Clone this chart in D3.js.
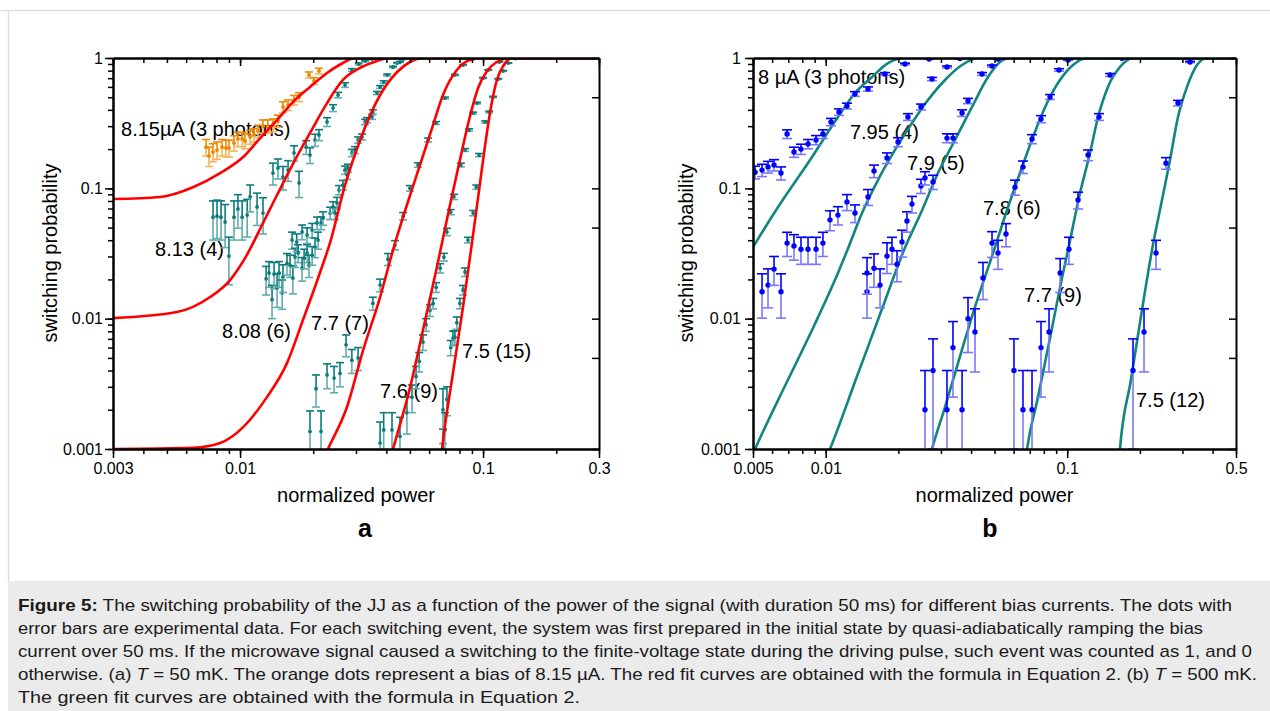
<!DOCTYPE html>
<html><head><meta charset="utf-8">
<script src="https://cdn.jsdelivr.net/npm/d3@7"></script>
<style>
body{margin:0;background:#fff}
svg text{font-family:"Liberation Sans",Arial,Helvetica,sans-serif}
</style>
</head><body>
<svg id="c" width="1270" height="711"></svg>
<script>
// ---------------- tick labels ----------------
const yTickVals = [0.001, 0.01, 0.1, 1];
const yTickLabels = ["0.001", "0.01", "0.1", "1"];
const aXTickVals = [0.003, 0.01, 0.1, 0.3];
const aXTickLabels = ["0.003", "0.01", "0.1", "0.3"];
const bXTickVals = [0.005, 0.01, 0.1, 0.5];
const bXTickLabels = ["0.005", "0.01", "0.1", "0.5"];

// ---------------- panel a data: [power, probability, error] ----------------
const a815 = [[0.00725,0.207,0.03],[0.00745,0.177,0.03],[0.00774,0.190,0.03],[0.00804,0.197,0.03],[0.00843,0.207,0.03],[0.00875,0.204,0.03],[0.0090,0.204,0.03],[0.00944,0.223,0.03],[0.0098,0.239,0.03],[0.0102,0.239,0.03],[0.01048,0.231,0.03],[0.0110,0.248,0.03],[0.01141,0.257,0.03],[0.01185,0.275,0.03],[0.01243,0.300,0.035],[0.0130,0.300,0.035],[0.01366,0.306,0.035],[0.01432,0.329,0.035],[0.01502,0.421,0.04],[0.01576,0.436,0.04],[0.01668,0.476,0.04],[0.01749,0.502,0.04],[0.01922,0.741,0.04],[0.02016,0.666,0.04],[0.02113,0.795,0.04]];
const a813 = [[0.00774,0.0601,0.02],[0.00804,0.0612,0.02],[0.00835,0.0601,0.02],[0.00868,0.0551,0.02],[0.0090,0.0302,0.012],[0.00944,0.0601,0.02],[0.0098,0.0694,0.02],[0.0102,0.0601,0.02],[0.0107,0.0623,0.02],[0.011,0.086,0.02],[0.01175,0.0719,0.02],[0.01243,0.0646,0.02],[0.01366,0.131,0.025],[0.01432,0.143,0.025],[0.01502,0.122,0.025],[0.01576,0.138,0.025],[0.01668,0.187,0.025],[0.01749,0.110,0.025],[0.0187,0.207,0.025],[0.0194,0.180,0.025],[0.02035,0.235,0.025],[0.02113,0.257,0.025],[0.0228,0.323,0.025],[0.02414,0.413,0.025],[0.0253,0.520,0.025],[0.02704,0.620,0.025],[0.02885,0.809,0.02],[0.0308,0.899,0.015],[0.0327,0.948,0.01],[0.0349,0.982,0.008]];
const a808 = [[0.0128,0.0202,0.005],[0.01316,0.0224,0.005],[0.01354,0.0140,0.004],[0.0138,0.0220,0.005],[0.0142,0.0172,0.005],[0.01447,0.0224,0.005],[0.0149,0.0158,0.004],[0.01502,0.0209,0.005],[0.0156,0.0266,0.005],[0.01606,0.0257,0.005],[0.01637,0.0401,0.006],[0.0165,0.0205,0.005],[0.01684,0.0297,0.005],[0.0171,0.0387,0.006],[0.01733,0.0319,0.005],[0.018,0.0244,0.005],[0.018,0.0463,0.006],[0.01835,0.0291,0.005],[0.01887,0.0319,0.005],[0.01887,0.0438,0.006],[0.01922,0.0257,0.005],[0.0198,0.0307,0.005],[0.0198,0.0478,0.006],[0.02035,0.0354,0.006],[0.02074,0.0542,0.006],[0.02094,0.0401,0.006],[0.02154,0.0542,0.006],[0.02196,0.0591,0.007],[0.02347,0.0646,0.007],[0.02414,0.0719,0.007],[0.0246,0.0646,0.007],[0.02506,0.0772,0.008],[0.02554,0.097,0.008],[0.0265,0.106,0.009],[0.02704,0.138,0.01],[0.02754,0.127,0.01],[0.0278,0.143,0.01],[0.02885,0.187,0.012],[0.0297,0.197,0.012],[0.0306,0.235,0.013],[0.03177,0.248,0.013],[0.0327,0.323,0.015],[0.0333,0.334,0.015],[0.0349,0.353,0.015],[0.0352,0.385,0.015],[0.0366,0.539,0.015],[0.0377,0.599,0.015],[0.039,0.654,0.015],[0.0403,0.741,0.012],[0.0426,0.853,0.01],[0.0443,0.915,0.008],[0.0455,0.932,0.008],[0.0469,0.982,0.005]];
const a77 = [[0.0194,0.00136,0.0006],[0.02055,0.0029,0.0008],[0.02154,0.00136,0.0006],[0.0228,0.0037,0.0008],[0.02437,0.0035,0.0008],[0.02578,0.0038,0.0008],[0.0273,0.0063,0.0012],[0.02885,0.0048,0.001],[0.0306,0.0050,0.001],[0.0352,0.0131,0.0015],[0.0377,0.0181,0.002],[0.0406,0.0286,0.003],[0.0434,0.0367,0.003],[0.0469,0.0612,0.004],[0.05,0.100,0.005],[0.054,0.151,0.006],[0.0594,0.235,0.008],[0.0641,0.317,0.008],[0.0697,0.493,0.008],[0.0766,0.741,0.008],[0.0827,0.884,0.006]];
const a76 = [[0.0377,0.00111,0.0005],[0.039,0.0014,0.0005],[0.0422,0.0014,0.0005],[0.0455,0.00125,0.0005],[0.0486,0.0019,0.0006],[0.051,0.0025,0.0006],[0.053,0.0036,0.0007],[0.0546,0.0047,0.0008],[0.0566,0.0066,0.0009],[0.0583,0.0090,0.001],[0.0605,0.0116,0.0012],[0.0623,0.0131,0.0012],[0.0641,0.0174,0.0015],[0.0666,0.0244,0.002],[0.069,0.0297,0.002],[0.071,0.0463,0.003],[0.0736,0.0657,0.003],[0.0759,0.086,0.004],[0.081,0.151,0.005],[0.0843,0.197,0.005],[0.0876,0.280,0.006],[0.091,0.378,0.006],[0.0945,0.451,0.006],[0.1,0.702,0.006],[0.105,0.809,0.005],[0.1166,0.932,0.004],[0.126,0.982,0.003]];
const a75 = [[0.0684,0.00102,0.0004],[0.0684,0.0020,0.0009],[0.0697,0.0014,0.0005],[0.071,0.0024,0.0006],[0.0736,0.0060,0.0008],[0.0752,0.0071,0.0009],[0.0766,0.0072,0.0009],[0.078,0.0093,0.001],[0.0803,0.0131,0.0012],[0.0827,0.0166,0.0014],[0.0843,0.0228,0.0017],[0.0867,0.0401,0.002],[0.091,0.0646,0.003],[0.0938,0.102,0.004],[0.0963,0.180,0.005],[0.102,0.323,0.006],[0.106,0.385,0.006],[0.110,0.502,0.006],[0.1155,0.690,0.005],[0.121,0.795,0.005],[0.127,0.915,0.004],[0.136,0.99,0.003]];

// panel a fit curves: [power, probability]
const fitA815 = [[0.003,0.0828],[0.00468,0.0858],[0.0064,0.102],[0.00828,0.131],[0.0103,0.174],[0.0121,0.243],[0.0142,0.334],[0.0165,0.459],[0.0194,0.599],[0.0228,0.767],[0.0265,0.915],[0.0292,0.99],[0.034,1],[0.3,1]];
const fitA813 = [[0.003,0.0101],[0.0055,0.01124],[0.00753,0.01465],[0.0091,0.01978],[0.01048,0.0291],[0.01243,0.0542],[0.0142,0.0889],[0.0171,0.174],[0.0194,0.266],[0.0228,0.451],[0.0265,0.678],[0.0311,0.838],[0.0366,0.95],[0.0414,1],[0.3,1]];
const fitA808 = [[0.003,0.001],[0.0064,0.00102],[0.00828,0.00111],[0.0103,0.00147],[0.0129,0.0025],[0.0156,0.00456],[0.01815,0.00976],[0.0213,0.0224],[0.0235,0.0387],[0.02704,0.106],[0.0312,0.235],[0.0377,0.520],[0.0443,0.781],[0.05,0.932],[0.0566,1],[0.3,1]];
const fitA77 = [[0.0211,0.0007],[0.023,0.001],[0.02754,0.0021],[0.0321,0.00574],[0.0377,0.01465],[0.0426,0.0336],[0.0486,0.0745],[0.055,0.151],[0.0617,0.290],[0.0684,0.520],[0.078,0.809],[0.0884,0.965],[0.1,1],[0.3,1]];
const fitA76 = [[0.0395,0.0006],[0.0426,0.001],[0.05,0.00293],[0.0566,0.00818],[0.0646,0.0249],[0.0731,0.0745],[0.0803,0.165],[0.0884,0.359],[0.0954,0.589],[0.1038,0.795],[0.114,0.932],[0.129,1],[0.3,1]];
const fitA75 = [[0.0653,0.0005],[0.0678,0.001],[0.0752,0.00383],[0.0827,0.0123],[0.090,0.038],[0.0963,0.097],[0.102,0.215],[0.108,0.428],[0.114,0.678],[0.121,0.868],[0.132,1],[0.3,1]];

// ---------------- panel b data ----------------
const b8 = [[0.0051,0.133,0.015],[0.00545,0.138,0.015],[0.00577,0.146,0.015],[0.00611,0.151,0.015],[0.00653,0.131,0.015],[0.00692,0.261,0.02],[0.00739,0.190,0.017],[0.0079,0.200,0.018],[0.00845,0.219,0.018],[0.00912,0.235,0.019],[0.00974,0.261,0.02],[0.01052,0.323,0.021],[0.01135,0.385,0.022],[0.01225,0.428,0.022],[0.01322,0.530,0.022],[0.01497,0.578,0.022],[0.0176,0.754,0.019],[0.0213,0.899,0.013],[0.0268,0.982,0.006]];
const b795 = [[0.00545,0.0161,0.006],[0.00577,0.0181,0.006],[0.00611,0.024,0.006],[0.00653,0.0161,0.006],[0.00692,0.038,0.008],[0.00739,0.0361,0.008],[0.0079,0.0341,0.008],[0.00845,0.0341,0.008],[0.00912,0.0341,0.008],[0.00974,0.038,0.008],[0.01042,0.0573,0.01],[0.01124,0.0623,0.01],[0.01225,0.0785,0.011],[0.01322,0.0646,0.01],[0.01497,0.0859,0.012],[0.01585,0.1358,0.015],[0.01794,0.171,0.016],[0.01993,0.2266,0.018],[0.0219,0.353,0.021],[0.0248,0.421,0.022],[0.02755,0.690,0.02],[0.03178,0.853,0.015],[0.03597,0.99,0.005]];
const b79 = [[0.01483,0.0161,0.006],[0.01483,0.0224,0.007],[0.01585,0.0244,0.007],[0.01679,0.0181,0.006],[0.01794,0.0302,0.008],[0.01882,0.0341,0.008],[0.01974,0.0262,0.007],[0.0207,0.0387,0.009],[0.0217,0.0561,0.01],[0.02277,0.0757,0.011],[0.0248,0.1043,0.013],[0.02577,0.1201,0.014],[0.02782,0.112,0.014],[0.03178,0.243,0.019],[0.03365,0.243,0.019],[0.0367,0.378,0.022],[0.03884,0.468,0.022],[0.04438,0.754,0.019],[0.04883,0.868,0.015],[0.0517,0.982,0.006]];
const b78 = [[0.02577,0.002,0.002],[0.02782,0.004,0.003],[0.03178,0.002,0.002],[0.03365,0.006,0.0035],[0.0367,0.002,0.002],[0.03884,0.010,0.0045],[0.04152,0.0079,0.004],[0.0448,0.0205,0.0065],[0.04883,0.038,0.0085],[0.0517,0.0319,0.008],[0.0558,0.0446,0.009],[0.0608,0.102,0.0135],[0.0656,0.146,0.016],[0.0715,0.239,0.019],[0.0779,0.340,0.021],[0.0849,0.502,0.022],[0.0925,0.809,0.018],[0.1008,0.965,0.008]];
const b77 = [[0.0602,0.004,0.003],[0.0656,0.002,0.002],[0.0715,0.002,0.002],[0.0779,0.006,0.0035],[0.0841,0.0079,0.004],[0.0935,0.0224,0.0065],[0.1017,0.0341,0.008],[0.1109,0.0814,0.012],[0.122,0.180,0.017],[0.1354,0.353,0.021],[0.1504,0.741,0.019],[0.1686,0.995,0.004]];
const b75 = [[0.1873,0.004,0.003],[0.208,0.0079,0.004],[0.2332,0.0319,0.008],[0.2565,0.156,0.016],[0.2876,0.451,0.022],[0.3225,0.932,0.01]];

const fitB8 = [[0.005,0.0354],[0.00635,0.0719],[0.00878,0.174],[0.01124,0.3525],[0.01323,0.539],[0.01555,0.715],[0.01811,0.915],[0.0213,1],[0.5,1]];
const fitB795 = [[0.0047,0.0007],[0.0051,0.001],[0.00635,0.00237],[0.00878,0.00818],[0.01124,0.0224],[0.0123,0.0336],[0.01414,0.0646],[0.01646,0.1158],[0.01936,0.197],[0.02276,0.317],[0.02652,0.476],[0.03119,0.678],[0.03667,0.884],[0.04273,1],[0.5,1]];
const fitB79 = [[0.0096,0.0007],[0.01042,0.001],[0.01335,0.00344],[0.0171,0.01185],[0.0211,0.0336],[0.0251,0.0682],[0.02917,0.131],[0.03431,0.235],[0.04035,0.421],[0.047,0.715],[0.0527,0.932],[0.058,1],[0.5,1]];
const fitB78 = [[0.0262,0.0007],[0.02755,0.001],[0.03119,0.0021],[0.03531,0.00456],[0.04152,0.0123],[0.04977,0.0336],[0.05636,0.0682],[0.06377,0.131],[0.07216,0.2475],[0.0825,0.4515],[0.09335,0.678],[0.1057,0.884],[0.1208,1],[0.5,1]];
const fitB77 = [[0.0665,0.0007],[0.0682,0.001],[0.0757,0.0025],[0.0857,0.00775],[0.0961,0.0224],[0.1008,0.0336],[0.113,0.092],[0.1243,0.1866],[0.1342,0.3525],[0.1475,0.6],[0.1654,0.853],[0.1872,1],[0.5,1]];
const fitB75 = [[0.162,0.0006],[0.1654,0.001],[0.1836,0.00338],[0.204,0.01164],[0.2245,0.0336],[0.2469,0.0813],[0.2665,0.165],[0.2876,0.3525],[0.3134,0.6],[0.3448,0.884],[0.3793,1],[0.5,1]];

// annotation texts with anchor in data units [power, probability]
const aNotes = [["8.15µA (3 photons)",0.003237,0.252],["8.13 (4)",0.004469,0.0302],["8.08 (6)",0.00843,0.0071],["7.7 (7)",0.0196,0.00818],["7.6 (9)",0.0377,0.00246],["7.5 (15)",0.082,0.00498]];
const bNotes = [["8 µA (3 photons)",0.005244,0.632],["7.95 (4)",0.0126,0.239],["7.9 (5)",0.0217,0.138],["7.8 (6)",0.0448,0.0624],["7.7 (9)",0.0663,0.0134],["7.5 (12)",0.1927,0.0021]];

const captionLines = [
  [["Figure 5:","b"],[" The switching probability of the JJ as a function of the power of the signal (with duration 50 ms) for different bias currents. The dots with",""]],
  [["error bars are experimental data. For each switching event, the system was first prepared in the initial state by quasi-adiabatically ramping the bias",""]],
  [["current over 50 ms. If the microwave signal caused a switching to the finite-voltage state during the driving pulse, such event was counted as 1, and 0",""]],
  [["otherwise. (a) ",""],["T","i"],[" = 50 mK. The orange dots represent a bias of 8.15 µA. The red fit curves are obtained with the formula in Equation 2. (b) ",""],["T","i"],[" = 500 mK.",""]],
  [["The green fit curves are obtained with the formula in Equation 2.",""]]
];
const captionWidths = [1214, 1185, 1234, 1239, 562];

// ---------------- drawing ----------------
const svg = d3.select("#c");
svg.append("rect").attr("x",0).attr("y",0).attr("width",1270).attr("height",711).attr("fill","#fff");
svg.append("line").attr("x1",0).attr("x2",1270).attr("y1",10.5).attr("y2",10.5).attr("stroke","#dedede").attr("stroke-width",1.5);
svg.append("line").attr("x1",8.5).attr("x2",8.5).attr("y1",10).attr("y2",581).attr("stroke","#dedede").attr("stroke-width",1.5);
svg.append("rect").attr("x",8).attr("y",581).attr("width",1262).attr("height",130).attr("fill","#ebebeb");

const defs = svg.append("defs");
const TOP = 58, BOT = 449;

function drawPanel(P) {
  const x = d3.scaleLog().domain(P.xDomain).range([P.left, P.right]);
  const y = d3.scaleLog().domain([0.001, 1]).range([BOT, TOP]);
  const g = svg.append("g");
  defs.append("clipPath").attr("id", "clip" + P.id).append("rect")
    .attr("x", P.left).attr("y", TOP).attr("width", P.right - P.left).attr("height", BOT - TOP);

  // annotations
  P.notes.forEach(n => g.append("text").attr("x", x(n[1])).attr("y", y(n[2]))
    .attr("font-size", 20).attr("fill", "#000").text(n[0]));

  const plot = g.append("g").attr("clip-path", `url(#clip${P.id})`);
  const line = d3.line().x(d => x(d[0])).y(d => y(d[1])).curve(d3.curveMonotoneX);

  const drawCurves = () => P.curves.forEach(c => plot.append("path").attr("d", line(c))
    .attr("fill", "none").attr("stroke", P.curveColor).attr("stroke-width", 2.6));

  const drawData = () => P.series.forEach(S => {
    const sg = plot.append("g");
    S.data.forEach(d => {
      const cx = x(d[0]), cy = y(d[1]);
      const up = y(d[1] + d[2]);
      const lo = (d[1] - d[2]) > 1e-6 ? y(d[1] - d[2]) : BOT + 60;
      sg.append("line").attr("x1", cx).attr("x2", cx).attr("y1", lo).attr("y2", cy)
        .attr("stroke", S.light).attr("stroke-width", 1.6);
      sg.append("line").attr("x1", cx - S.cap).attr("x2", cx + S.cap).attr("y1", lo).attr("y2", lo)
        .attr("stroke", S.light).attr("stroke-width", 1.6);
      sg.append("line").attr("x1", cx).attr("x2", cx).attr("y1", cy).attr("y2", up)
        .attr("stroke", S.dark).attr("stroke-width", 1.6);
      sg.append("line").attr("x1", cx - S.cap).attr("x2", cx + S.cap).attr("y1", up).attr("y2", up)
        .attr("stroke", S.dark).attr("stroke-width", 1.6);
      sg.append("circle").attr("cx", cx).attr("cy", cy).attr("r", S.r).attr("fill", S.dark);
    });
  });

  if (P.curvesOnTop) { drawData(); drawCurves(); } else { drawCurves(); drawData(); }

  // axes
  const xMinor = x.ticks();
  const yMinor = y.ticks();
  const y15 = yMinor.filter(v => {
    const m = v / Math.pow(10, Math.floor(Math.log10(v) + 1e-9));
    return Math.abs(m - 1) < 1e-6 || Math.abs(m - 5) < 1e-6;
  });
  const style = sel => {
    sel.selectAll(".domain").attr("stroke", "#000").attr("stroke-width", 2);
    sel.selectAll(".tick line").attr("stroke", "#000").attr("stroke-width", 1.5);
    sel.attr("font-size", 16).attr("font-family", '"Liberation Sans",Arial,sans-serif');
    sel.selectAll(".tick text").attr("fill", "#000");
  };
  const fmtX = d => { const i = P.xTicks.findIndex(v => Math.abs(v - d) / v < 1e-6); return i >= 0 ? P.xLabels[i] : ""; };
  const fmtY = d => { const i = yTickVals.findIndex(v => Math.abs(v - d) / v < 1e-6); return i >= 0 ? yTickLabels[i] : ""; };

  // bottom
  g.append("g").attr("transform", `translate(0,${BOT})`)
    .call(d3.axisBottom(x).tickValues(xMinor).tickSize(5).tickSizeOuter(0).tickFormat("")).call(style);
  g.append("g").attr("transform", `translate(0,${BOT})`)
    .call(d3.axisBottom(x).tickValues(P.xTicks).tickSize(9).tickSizeOuter(0).tickPadding(5).tickFormat(fmtX)).call(style);
  // top (inward)
  g.append("g").attr("transform", `translate(0,${TOP})`)
    .call(d3.axisBottom(x).tickValues(xMinor).tickSize(5).tickSizeOuter(0).tickFormat("")).call(style);
  g.append("g").attr("transform", `translate(0,${TOP})`)
    .call(d3.axisBottom(x).tickValues(P.xTicks).tickSize(8).tickSizeOuter(0).tickFormat("")).call(style);
  // left
  g.append("g").attr("transform", `translate(${P.left},0)`)
    .call(d3.axisLeft(y).tickValues(yMinor).tickSize(5).tickSizeOuter(0).tickFormat("")).call(style);
  g.append("g").attr("transform", `translate(${P.left},0)`)
    .call(d3.axisLeft(y).tickValues(yTickVals).tickSize(8).tickSizeOuter(0).tickPadding(P.yPad).tickFormat(fmtY)).call(style);
  // right (inward)
  g.append("g").attr("transform", `translate(${P.right},0)`)
    .call(d3.axisLeft(y).tickValues(y15).tickSize(7).tickSizeOuter(0).tickFormat("")).call(style);

  // titles
  const cxm = (P.left + P.right) / 2;
  g.append("text").attr("x", cxm).attr("y", 502).attr("text-anchor", "middle")
    .attr("font-size", 20).attr("fill", "#000").text("normalized power");
  g.append("text").attr("transform", `translate(${P.yTitleX},253) rotate(-90)`).attr("text-anchor", "middle")
    .attr("font-size", 20).attr("fill", "#000").text("switching probability");
  g.append("text").attr("x", P.letterX).attr("y", 537).attr("text-anchor", "middle")
    .attr("font-size", 25).attr("font-weight", "bold").attr("fill", "#000").text(P.letter);
}

const teal = {dark: "#0b7b7b", light: "#62adad", cap: 4, r: 1.9};
drawPanel({
  id: "a", left: 113, right: 599, xDomain: [0.003, 0.3], xTicks: aXTickVals, xLabels: aXTickLabels,
  yPad: 2, yTitleX: 57, letter: "a", letterX: 365, curveColor: "#ff0000", curvesOnTop: true,
  notes: aNotes,
  curves: [fitA815, fitA813, fitA808, fitA77, fitA76, fitA75],
  series: [
    {data: a815, dark: "#f08800", light: "#f8b45a", cap: 4, r: 2},
    Object.assign({data: a813}, teal), Object.assign({data: a808}, teal),
    Object.assign({data: a77}, teal), Object.assign({data: a76}, teal), Object.assign({data: a75}, teal)
  ]
});
const blue = {dark: "#0000ff", light: "#7878ff", cap: 5, r: 2.7};
drawPanel({
  id: "b", left: 753, right: 1236, xDomain: [0.005, 0.5], xTicks: bXTickVals, xLabels: bXTickLabels,
  yPad: 4, yTitleX: 693, letter: "b", letterX: 990, curveColor: "#138580", curvesOnTop: false,
  notes: bNotes,
  curves: [fitB8, fitB795, fitB79, fitB78, fitB77, fitB75],
  series: [b8, b795, b79, b78, b77, b75].map(d => Object.assign({data: d}, blue))
});

// caption
const cap = svg.append("g").attr("font-size", 17).attr("fill", "#1a1a1a");
captionLines.forEach((ln, i) => {
  const t = cap.append("text").attr("x", 18).attr("y", 611 + i * 23)
    .attr("textLength", captionWidths[i]).attr("lengthAdjust", "spacingAndGlyphs");
  ln.forEach(seg => {
    const s = t.append("tspan").text(seg[0]);
    if (seg[1] === "b") s.attr("font-weight", "bold");
    if (seg[1] === "i") s.attr("font-style", "italic");
  });
});
</script>
</body></html>
